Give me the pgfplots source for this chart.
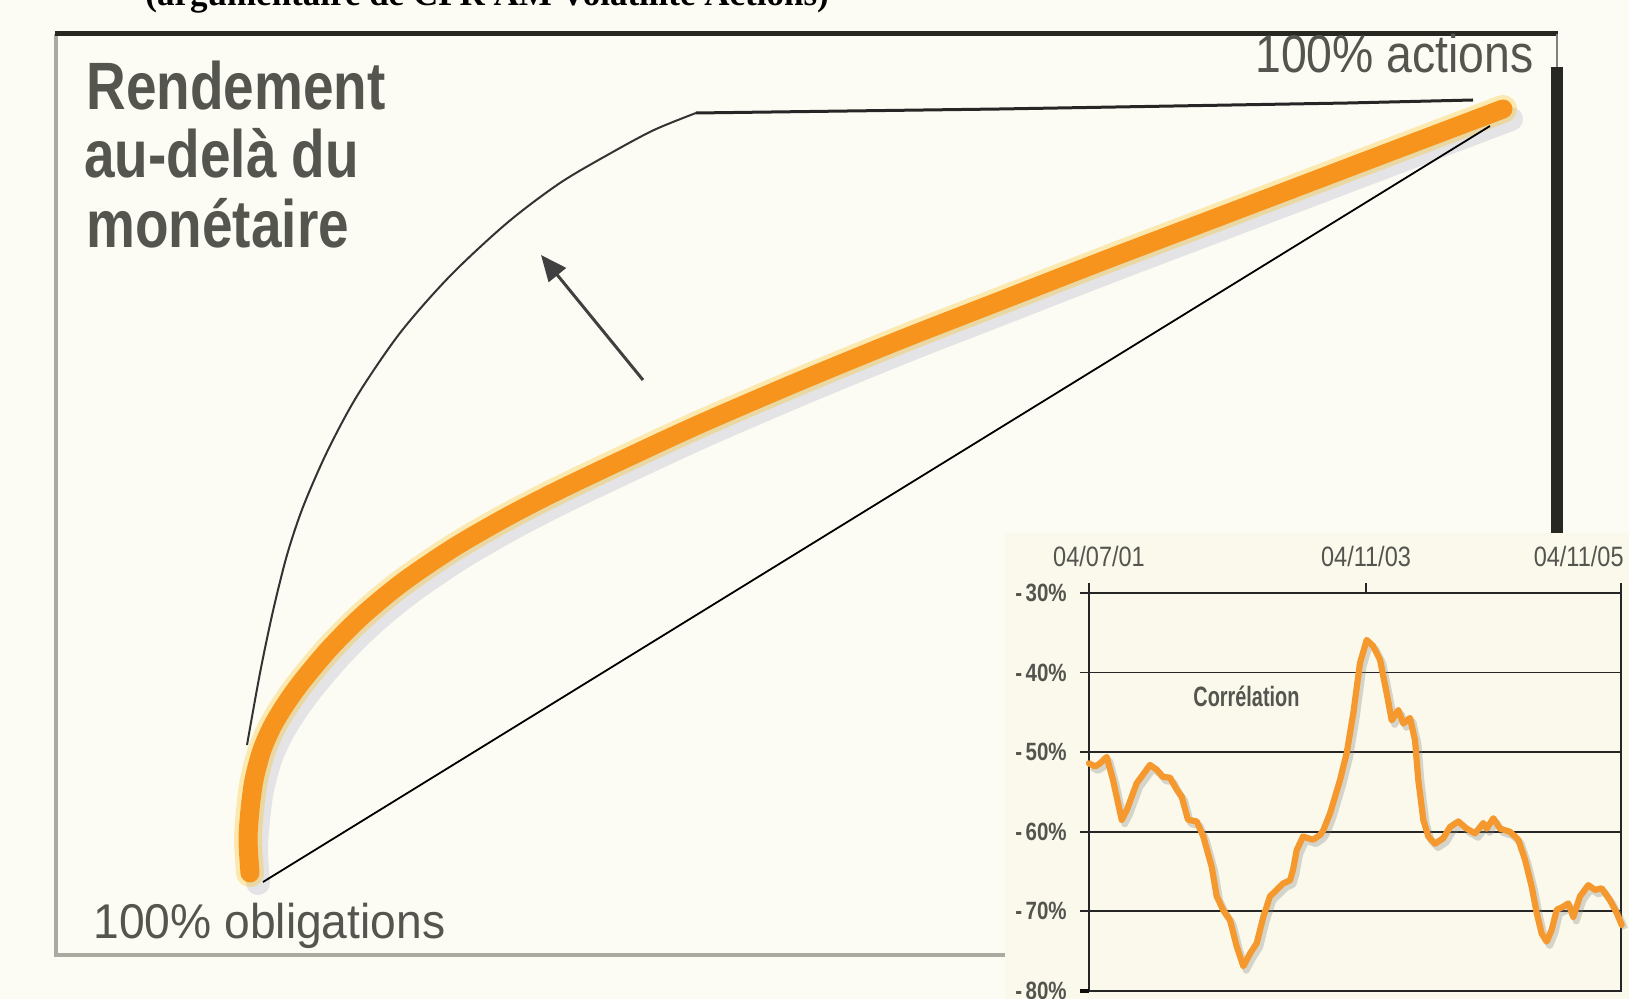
\documentclass[border=0pt]{standalone}
\usepackage{fontspec}
\setmainfont{Liberation Sans}
\newfontfamily\serif{Liberation Serif}
\usepackage{graphicx}
\usepackage{pgfplots}
\usepackage{pgfplotstable}
\pgfplotsset{compat=1.18}
\usetikzlibrary{arrows.meta}
\definecolor{bgc}{RGB}{253,252,244}
\definecolor{insetbg}{RGB}{250,249,236}
\definecolor{orangeA}{RGB}{247,148,29}
\definecolor{orangeB}{RGB}{245,152,45}
\definecolor{txtgrey}{RGB}{85,85,80}
\definecolor{framegrey}{RGB}{170,170,160}
\definecolor{darkline}{RGB}{40,40,35}

\pgfplotstableread{
x y
0 -51.4
6 -51.8
11 -51.4
17.7 -50.6
24 -53.5
32.7 -58.5
37.7 -57.3
47.7 -53.9
61 -51.6
67.7 -52.2
74 -53.1
81 -53.2
87.7 -54.7
92.7 -55.6
99 -58.5
107.7 -58.7
114.3 -60.6
122.7 -64.4
127.7 -68.1
134 -69.8
141 -71.1
147.7 -74.4
154.3 -76.9
161 -75.3
167.7 -74.0
174.3 -70.7
181 -68.1
187.7 -67.3
194 -66.5
201 -66.1
204 -64.8
207.7 -62.3
214 -60.6
224 -61.0
231 -60.4
234.3 -59.8
241 -57.7
251 -53.5
257.7 -50.1
264.3 -45.1
271 -38.8
277.7 -35.9
284.3 -36.7
291 -38.4
297.7 -42.6
302.7 -46.0
309.3 -44.7
314.3 -46.4
321 -45.7
326 -48.5
329.3 -53.5
334.3 -58.5
339.3 -60.6
346 -61.5
354.3 -60.8
361 -59.4
369.3 -58.7
377.7 -59.6
386 -60.2
394.3 -58.9
397.7 -59.6
404.3 -58.3
411 -59.6
421 -60.0
429.3 -61.0
436 -63.5
442.7 -66.9
447.7 -70.2
452.7 -72.8
457.7 -73.8
462.7 -72.3
467.7 -69.8
474.3 -69.4
479.3 -69.0
484.3 -70.7
491 -68.1
499.3 -66.7
506 -67.3
512.7 -67.1
521 -68.6
527.7 -70.2
532.7 -71.7
}\corr

\pgfplotstableread{
x y
250 873
248 840
250 810
254 780
262 750
273 725
287 702
303 680
330 648
363 615
403 582
453 548
503 519
553 493
620 461
700 424
800 381
900 340
1000 301
1100 262
1200 224
1300 186
1400 148
1503 109
}\mix

\pgfplotstableread{
x y
247 745
260 673
273 611
287 555
303 507
327 452
357 396
400 333
450 276
507 223
560 183
611 153
654 130
696 113
}\front

\pgfplotstableread{
x y
696 113
1000 109
1348 103
1473 100
}\flat

\begin{document}
\begin{tikzpicture}
\fill[bgc] (0,0) rectangle (814.5pt,499.5pt);
\begin{axis}[at={(0,0)}, anchor=south west, scale only axis,
  width=814.5pt, height=499.5pt,
  xmin=0, xmax=1629, ymin=0, ymax=999, y dir=reverse,
  hide axis, clip=false]
% caption (cut at top, as in the source)
\node[anchor=base west, inner sep=0, font=\serif\bfseries\fontsize{17.5}{20}\selectfont, text=black]
  at (axis cs:145,6) {(argumentaire de CPR AM Volatilité Actions)};
% frame
\draw[framegrey, line width=2pt] (axis cs:56,34) -- (axis cs:56,955) -- (axis cs:1005,955);
\draw[darkline, line width=2.5pt] (axis cs:55,34) -- (axis cs:1558,34);
\draw[gray, line width=0.8pt] (axis cs:1557,34) -- (axis cs:1557,67);
\fill[darkline] (axis cs:1551,67) rectangle (axis cs:1563,533);
% orange curve with shadow and halo
\addplot[smooth, line width=12pt, color=gray!80!blue, opacity=0.16, xshift=4pt, yshift=-5pt, line cap=round] table {\mix};
\addplot[smooth, line width=14pt, color=orangeA!60!yellow, opacity=0.3, line cap=round] table {\mix};
\addplot[smooth, line width=9.5pt, color=orangeA, line cap=round] table {\mix};
% efficient frontier
\addplot[smooth, line width=1pt, color=black!80] table {\front};
\addplot[line width=1.5pt, color=black!85] table {\flat};
% straight line
\addplot[line width=0.9pt, color=black] coordinates {(263,882) (1490,126)};
% arrow
\draw[-{Triangle[length=13pt,width=11pt]}, line width=1.5pt, color=black!75] (axis cs:643,380) -- (axis cs:541,255);
% texts
\node[anchor=base west, inner sep=0, text=txtgrey, font=\bfseries\fontsize{33.5}{40}\selectfont] at (axis cs:86,110) {\scalebox{0.82}[1]{Rendement}};
\node[anchor=base west, inner sep=0, text=txtgrey, font=\bfseries\fontsize{33.5}{40}\selectfont] at (axis cs:84,178) {\scalebox{0.82}[1]{au-delà du}};
\node[anchor=base west, inner sep=0, text=txtgrey, font=\bfseries\fontsize{33.5}{40}\selectfont] at (axis cs:86,248) {\scalebox{0.82}[1]{monétaire}};
\node[anchor=base west, inner sep=0, text=txtgrey, font=\fontsize{26.5}{30}\selectfont] at (axis cs:1255,73) {\scalebox{0.875}[1]{100\% actions}};
\node[anchor=base west, inner sep=0, text=txtgrey, font=\fontsize{24.4}{28}\selectfont] at (axis cs:93,938) {\scalebox{0.947}[1]{100\% obligations}};
\end{axis}
% inset background
\fill[insetbg] (502.5pt,0pt) rectangle (814.5pt,233pt);
\begin{axis}[at={(544.5pt,4pt)}, anchor=south west, scale only axis,
  width=266pt, height=199pt,
  xmin=0, xmax=532, ymin=-80, ymax=-30, clip=false,
  axis line style={color=black!85, line width=0.9pt},
  xtick=\empty,
  ytick={-80,-70,-60,-50,-40,-30},
  yticklabels={-\,80\%,-\,70\%,-\,60\%,-\,50\%,-\,40\%,-\,30\%},
  major tick length=0pt,
  yticklabel style={anchor=east, inner sep=0pt, xshift=-11pt,
    font=\bfseries\fontsize{12.5}{14}\selectfont, text=txtgrey, xscale=0.82},
  ymajorgrids, grid style={color=black!85, line width=0.9pt}]
\draw[black!85, line width=0.9pt] (axis cs:-9,-30) -- (axis cs:0,-30);
\draw[black!85, line width=0.9pt] (axis cs:-9,-40) -- (axis cs:0,-40);
\draw[black!85, line width=0.9pt] (axis cs:-9,-50) -- (axis cs:0,-50);
\draw[black!85, line width=0.9pt] (axis cs:-9,-60) -- (axis cs:0,-60);
\draw[black!85, line width=0.9pt] (axis cs:-9,-70) -- (axis cs:0,-70);
\draw[black!95, line width=1.8pt] (axis cs:-9,-80) -- (axis cs:0,-80);
\draw[black!85, line width=0.9pt] (axis cs:0,-30) -- (axis cs:0,-28.7);
\draw[black!85, line width=0.9pt] (axis cs:277,-30) -- (axis cs:277,-28.7);
\draw[black!85, line width=0.9pt] (axis cs:532,-30) -- (axis cs:532,-28.7);
\node[anchor=base, inner sep=0, text=txtgrey, font=\fontsize{14}{16}\selectfont] at (axis cs:10,-26.7) {\scalebox{0.84}[1]{04/07/01}};
\node[anchor=base, inner sep=0, text=txtgrey, font=\fontsize{14}{16}\selectfont] at (axis cs:277,-26.7) {\scalebox{0.84}[1]{04/11/03}};
\node[anchor=base east, inner sep=0, text=txtgrey, font=\fontsize{14}{16}\selectfont] at (axis cs:535,-26.7) {\scalebox{0.84}[1]{04/11/05}};
\node[anchor=base west, inner sep=0, text=txtgrey, font=\bfseries\fontsize{14}{16}\selectfont] at (axis cs:104,-44.3) {\scalebox{0.71}[1]{Corrélation}};
\addplot[color=gray, opacity=0.3, line width=3.4pt, xshift=1.5pt, yshift=-2pt, line join=round] table {\corr};
\addplot[color=orangeB, line width=3.1pt, line join=round, line cap=round] table {\corr};
\end{axis}
\pgfresetboundingbox
\path[use as bounding box] (0,0) rectangle (814.5pt,499.5pt);
\end{tikzpicture}
\end{document}
